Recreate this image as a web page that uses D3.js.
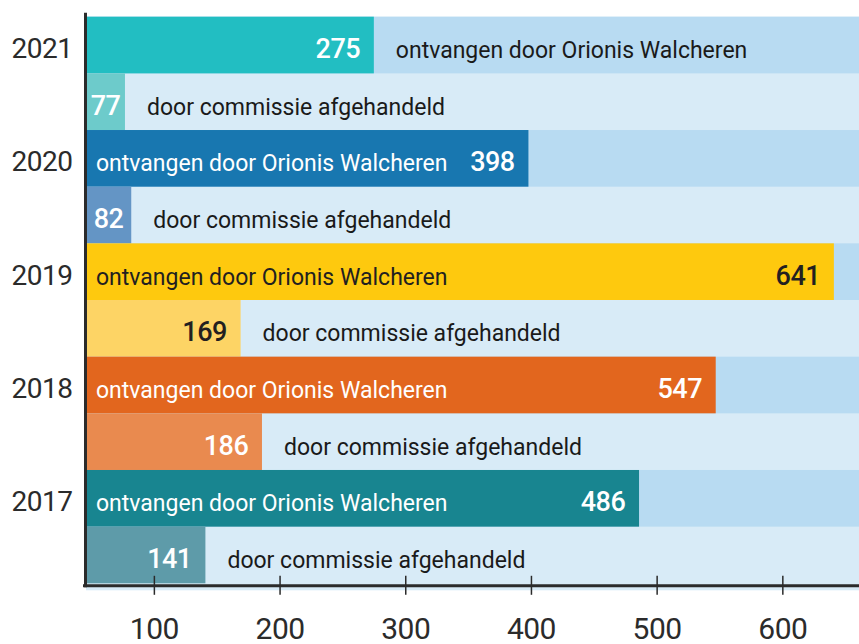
<!DOCTYPE html>
<html>
<head>
<meta charset="utf-8">
<script src="https://cdn.jsdelivr.net/npm/d3@7"></script>
<style>
	body { margin: 0; background: #fff; }
	#wrapper { width: 859px; height: 644px; overflow: hidden; }
	text { font-family: Roboto, "Noto Sans", sans-serif; }
</style>
</head>
<body>
<div id="wrapper"></div>
<script>
const years = ["2021", "2020", "2019", "2018", "2017"];
const received = [275, 398, 641, 547, 486];
const handled = [77, 82, 169, 186, 141];
const seriesLabels = ["ontvangen door Orionis Walcheren", "door commissie afgehandeld"];
const xTicks = [100, 200, 300, 400, 500, 600];

// bar colours per year: [ontvangen, afgehandeld]
const barColors = {
	"2021": ["#22bec2", "#6dcbcb"],
	"2020": ["#1877b0", "#6495c5"],
	"2019": ["#fec90e", "#fdd465"],
	"2018": ["#e2661e", "#e98a4f"],
	"2017": ["#188590", "#5e9ba9"]
};
const rowBg = ["#b8dbf2", "#d8ebf7"];

function drawChart(){
	// one row per year and series
	const rows = [];
	years.forEach((year, i) => {
		rows.push({year: year, series: 0, value: received[i], key: year + "-0"});
		rows.push({year: year, series: 1, value: handled[i], key: year + "-1"});
	});

	const valueAccessor = d => d.value;
	const keyAccessor = d => d.key;

	let dimensions = {
		width: 859,
		height: 644,
		margin: {
			top: 16.7,
			right: 0,
			bottom: 60.7,
			left: 86
		}
	};
	dimensions.boundedWidth = dimensions.width - dimensions.margin.left - dimensions.margin.right;
	dimensions.boundedHeight = dimensions.height - dimensions.margin.top - dimensions.margin.bottom;

	const wrapper = d3.select("#wrapper").append("svg")
						.attr("width", dimensions.width)
						.attr("height", dimensions.height);

	const bounds = wrapper.append("g")
						.attr("transform", `translate(${dimensions.margin.left},${dimensions.margin.top})`);

	const xScaler = d3.scaleLinear()
					.domain([46, 661])
					.range([0, dimensions.boundedWidth]);

	const yScaler = d3.scaleBand()
					.domain(rows.map(keyAccessor))
					.range([0, dimensions.boundedHeight])
					.padding(0);

	const rowH = yScaler.bandwidth();

	// background bands
	bounds.append("rect")
		.attr("x", 0)
		.attr("y", 0)
		.attr("width", dimensions.boundedWidth)
		.attr("height", dimensions.boundedHeight + 7)
		.attr("fill", rowBg[1]);

	bounds.append("g").selectAll("rect")
		.data(rows.filter(d => d.series === 0))
		.enter()
		.append("rect")
		.attr("x", 0)
		.attr("y", d => yScaler(d.key))
		.attr("width", dimensions.boundedWidth)
		.attr("height", rowH)
		.attr("fill", rowBg[0]);

	// bars
	const rowGroups = bounds.append("g").selectAll("g")
		.data(rows)
		.enter()
		.append("g");

	rowGroups.append("rect")
		.attr("x", -2)
		.attr("y", d => yScaler(d.key))
		.attr("width", d => xScaler(valueAccessor(d)) + 2)
		.attr("height", rowH)
		.attr("fill", d => barColors[d.year][d.series]);

	const textColor = d => d3.lab(barColors[d.year][d.series]).l > 80 ? "#231f20" : "#ffffff";
	const baseY = d => yScaler(d.key) + rowH / 2 + 13;
	const fitsInside = d => xScaler(valueAccessor(d)) > 420;

	// value labels
	rowGroups.append("text")
		.attr("x", d => Math.max(xScaler(valueAccessor(d)) - 36, xScaler(valueAccessor(d)) / 2))
		.attr("y", baseY)
		.attr("text-anchor", "middle")
		.attr("font-size", "27px")
		.attr("font-weight", 500)
		.attr("letter-spacing", "-0.5px")
		.attr("fill", textColor)
		.text(valueAccessor);

	// series labels
	rowGroups.append("text")
		.attr("x", d => fitsInside(d) ? 10 : xScaler(valueAccessor(d)) + 22)
		.attr("y", baseY)
		.attr("font-size", "23px")
		.attr("fill", d => fitsInside(d) ? textColor(d) : "#1a1a1a")
		.text(d => seriesLabels[d.series]);

	// year labels
	bounds.append("g").selectAll("text")
		.data(rows.filter(d => d.series === 0))
		.enter()
		.append("text")
		.attr("x", 42 - dimensions.margin.left)
		.attr("y", baseY)
		.attr("text-anchor", "middle")
		.attr("font-size", "28px")
		.attr("letter-spacing", "-0.5px")
		.attr("fill", "#2b2b2b")
		.text(d => d.year);

	// x axis
	const xAxisGen = d3.axisBottom(xScaler)
					.tickValues(xTicks)
					.tickSize(9)
					.tickSizeOuter(0)
					.tickFormat(d3.format("d"));

	const axisX = bounds.append("g")
					.attr("transform", `translate(0,${dimensions.boundedHeight + 2.5})`)
					.call(xAxisGen);

	axisX.select(".domain")
		.attr("stroke", "#2b2b2b")
		.attr("stroke-width", 3)
		.attr("d", `M-3,0H${dimensions.boundedWidth}`);

	axisX.selectAll(".tick line")
		.attr("y1", -10)
		.attr("y2", 9)
		.attr("stroke", "#2b2b2b")
		.attr("stroke-width", 1.5);

	axisX.selectAll(".tick text")
		.attr("y", 53)
		.attr("dy", 0)
		.attr("font-family", "Roboto, sans-serif")
		.attr("font-size", "30px")
		.attr("letter-spacing", "-0.5px")
		.attr("fill", "#2b2b2b");

	// y axis line
	bounds.append("line")
		.attr("x1", -0.5)
		.attr("x2", -0.5)
		.attr("y1", -4)
		.attr("y2", dimensions.boundedHeight + 4)
		.attr("stroke", "#2b2b2b")
		.attr("stroke-width", 3);
}

drawChart();
</script>
</body>
</html>
